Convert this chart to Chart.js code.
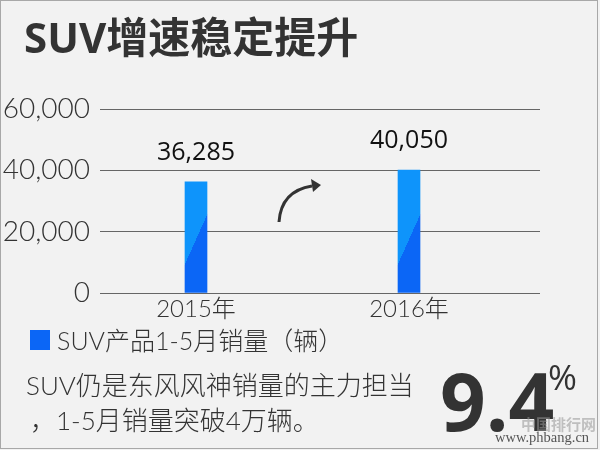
<!DOCTYPE html>
<html><head><meta charset="utf-8">
<script src="https://cdn.jsdelivr.net/npm/chart.js@4"></script>
<style>html,body{margin:0;padding:0;background:#fff;}#wrap{width:600px;height:450px;position:relative;}</style>
</head><body><div id="wrap"><canvas id="c" width="600" height="450"></canvas></div>
<script>
const title = 'SUV增速稳定提升';
const categories = ['2015年', '2016年'];
const sales = [36285, 40050];
const yTicks = [0, 20000, 40000, 60000];
const seriesLabel = 'SUV产品1-5月销量（辆）';
const noteLines = ['SUV仍是东风风神销量的主力担当', '，1-5月销量突破4万辆。'];
const growthText = '9.4';
const growthUnit = '%';

const LIGHT = '#0e94fb';
const DARK = '#0b66f6';
const TXT = '#333333';
const LAT = 'Lato,"Noto Sans CJK SC",sans-serif';
const OS = '"Open Sans","Noto Sans CJK SC",sans-serif';

function barFill(c) {
  const chart = c.chart;
  const xs = chart.scales && chart.scales.x, ys = chart.scales && chart.scales.y;
  if (!xs || !ys || c.type !== 'data') return DARK;
  const xc = xs.getPixelForValue(c.dataIndex);
  const base = ys.getPixelForValue(0);
  if (!isFinite(xc) || !isFinite(base)) return DARK;
  const half = 11;
  const p1 = {x: xc - half, y: base - 29}, p2 = {x: xc + half, y: base - 78};
  const mx = (p1.x + p2.x) / 2, my = (p1.y + p2.y) / 2;
  let nx = -(p1.y - p2.y), ny = -(p2.x - p1.x);
  const len = Math.hypot(nx, ny); nx /= len; ny /= len;
  if (nx > 0) { nx = -nx; ny = -ny; }
  const L = 200;
  const g = chart.ctx.createLinearGradient(mx - nx * L, my - ny * L, mx + nx * L, my + ny * L);
  g.addColorStop(0, DARK); g.addColorStop(0.5, DARK);
  g.addColorStop(0.5, LIGHT); g.addColorStop(1, LIGHT);
  return g;
}

const decor = {
  id: 'decor',
  beforeDraw(chart) {
    const ctx = chart.ctx;
    ctx.save();
    ctx.fillStyle = '#f2f2f2';
    ctx.fillRect(0, 0, 600, 450);
    ctx.strokeStyle = '#a8a8a8'; ctx.lineWidth = 1;
    ctx.strokeRect(0.5, 0.5, 597, 448);
    ctx.fillStyle = TXT;
    ctx.font = 'bold 42px ' + OS;
    ctx.textBaseline = 'alphabetic'; ctx.textAlign = 'left';
    ctx.fillText(title, 24, 53);
    ctx.restore();
  },
  afterDatasetsDraw(chart) {
    const ctx = chart.ctx;
    const meta = chart.getDatasetMeta(0);
    ctx.save();
    ctx.fillStyle = '#111';
    ctx.font = '25px ' + OS;
    ctx.textAlign = 'center'; ctx.textBaseline = 'alphabetic';
    meta.data.forEach((el, i) => {
      ctx.fillText(sales[i].toLocaleString('en-US'), el.x, el.y - 22);
    });
    ctx.strokeStyle = '#333'; ctx.lineWidth = 3; ctx.lineCap = 'butt';
    ctx.beginPath();
    ctx.moveTo(279, 222);
    ctx.quadraticCurveTo(281, 191, 312, 186);
    ctx.stroke();
    ctx.fillStyle = '#333';
    ctx.beginPath();
    ctx.moveTo(321, 185); ctx.lineTo(311, 179); ctx.lineTo(313, 192); ctx.closePath();
    ctx.fill();
    // legend
    ctx.fillStyle = DARK;
    ctx.fillRect(30, 330, 20, 20);
    ctx.fillStyle = TXT;
    ctx.font = '300 25px ' + LAT;
    ctx.textAlign = 'left'; ctx.textBaseline = 'alphabetic';
    ctx.fillText(chart.data.datasets[0].label, 57, 350);
    // notes
    ctx.font = '300 26px ' + LAT;
    ctx.fillText(noteLines[0], 26, 395);
    ctx.fillText(noteLines[1], 30, 430);
    // growth
    ctx.font = 'bold 80px ' + OS;
    ctx.fillText(growthText, 440, 431);
    ctx.font = '35px ' + OS;
    ctx.fillText(growthUnit, 548, 390);
    // watermark
    ctx.fillStyle = 'rgba(150,150,150,0.55)';
    ctx.font = 'bold 15px "Noto Sans CJK SC",sans-serif';
    ctx.fillText('中国排行网', 521, 430);
    ctx.fillStyle = '#555';
    ctx.font = '14.5px "Liberation Serif",serif';
    ctx.fillText('www.phbang.cn', 495, 442);
    ctx.restore();
  }
};

new Chart(document.getElementById('c'), {
  type: 'bar',
  data: {
    datasets: [{
      label: seriesLabel,
      data: categories.map((c, i) => ({x: i, y: sales[i]})),
      backgroundColor: barFill,
      barThickness: 22,
      borderWidth: 0
    }]
  },
  options: {
    responsive: false,
    animation: false,
    events: [],
    layout: {padding: {top: 109, right: 60, bottom: 117, left: 0}},
    plugins: {legend: {display: false}, tooltip: {enabled: false}},
    scales: {
      x: {
        type: 'linear',
        offset: false,
        min: -0.4507, max: 1.615,
        afterBuildTicks: s => { s.ticks = categories.map((c, i) => ({value: i})); },
        afterFit: s => { s.height = 40; },
        grid: {display: false, drawTicks: false, offset: false},
        border: {display: false},
        ticks: {
          callback: v => categories[v],
          color: TXT, padding: 2,
          font: {family: LAT, size: 24, weight: '300'},
          maxRotation: 0, autoSkip: false
        }
      },
      y: {
        min: 0, max: 60000,
        afterBuildTicks: s => { s.ticks = yTicks.map(v => ({value: v})); },
        afterFit: s => { s.width = 100; },
        grid: {color: '#666', lineWidth: 1, drawTicks: false},
        border: {display: false},
        ticks: {
          callback: v => v.toLocaleString('en-US'),
          color: TXT, padding: 10,
          font: {family: LAT, size: 28, weight: '300'}
        }
      }
    }
  },
  plugins: [decor]
});
</script></body></html>
